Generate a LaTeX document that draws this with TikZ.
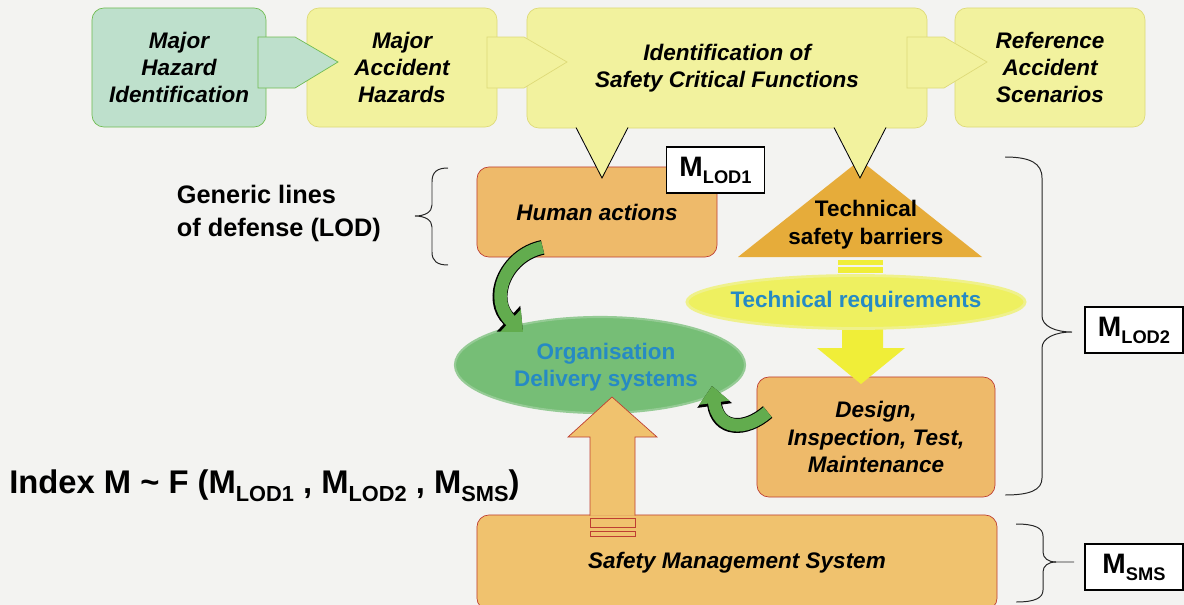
\documentclass[tikz,border=0pt]{standalone}
\usepackage{fontspec}
\setmainfont{Liberation Sans}
\usetikzlibrary{shapes.geometric,arrows.meta,calc}

\definecolor{bgcol}{RGB}{243,243,241}
\definecolor{tealfill}{RGB}{190,224,204}
\definecolor{tealline}{RGB}{112,188,82}
\definecolor{yelfill}{RGB}{242,242,158}
\definecolor{yelline}{RGB}{222,218,120}
\definecolor{orangefill}{RGB}{238,186,106}
\definecolor{smsfill}{RGB}{240,194,110}
\definecolor{barrierfill}{RGB}{230,172,58}
\definecolor{redline}{RGB}{190,62,50}
\definecolor{orgfill}{RGB}{118,190,118}
\definecolor{reqfill}{RGB}{238,240,96}
\definecolor{bluetext}{RGB}{38,138,196}
\definecolor{arrowgreen}{RGB}{98,172,78}
\definecolor{arrowyel}{RGB}{240,238,56}

\newcommand{\Msub}[2]{M\raisebox{-0.25em}{\fontsize{#2}{#2}\selectfont #1}}

\tikzset{
  topbox/.style={rounded corners=0.3cm, line width=0.5pt, align=center,
    minimum height=2.975cm, font=\bfseries\itshape\fontsize{16}{19.2}\selectfont},
  lodbox/.style={rounded corners=0.3cm, fill=orangefill, draw=redline, line width=0.5pt,
    align=center, font=\bfseries\itshape\fontsize{16}{19.5}\selectfont},
  mbox/.style={draw=black, fill=white, line width=0.8pt, inner sep=0pt,
    minimum width=2.45cm, minimum height=1.15cm, font=\bfseries\fontsize{20}{20}\selectfont},
  blobtext/.style={text=bluetext, align=center, font=\bfseries\fontsize{16}{19.5}\selectfont},
  greenarrow/.style={line width=9pt, draw=arrowgreen, -{Triangle[width=21pt,length=12pt]},
    preaction={draw=black, line width=10.6pt, -{Triangle[width=24pt,length=14pt]}}},
  bracket/.style={line width=0.7pt, draw=black!85}
}

\begin{document}
\begin{tikzpicture}[x=0.025cm, y=-0.025cm]
  \clip (0,0) rectangle (1184,605);
  \fill[bgcol] (0,0) rectangle (1184,605);

  % Top row
  \node[topbox, fill=tealfill, draw=tealline, minimum width=4.35cm] (mhi) at (179,67.5) {Major\\Hazard\\Identification};
  \node[topbox, fill=yelfill, draw=yelline, minimum width=4.75cm] (mah) at (402,67.5) {Major\\Accident\\Hazards};
  \node[topbox, fill=yelfill, draw=yelline, minimum width=10cm, minimum height=3cm] (iscf) at (727,68) {Identification of\\Safety Critical Functions};
  \node[topbox, fill=yelfill, draw=yelline, minimum width=4.75cm] (ras) at (1050,67.5) {Reference\\Accident\\Scenarios};

  % Arrows between the top boxes
  \foreach \xa/\fc/\dc in {258/tealfill/tealline, 487/yelfill/yelline, 907/yelfill/yelline}
    \filldraw[fill=\fc, draw=\dc, line width=0.5pt] (\xa,37) -- ++(37,0) -- ++(43,25) -- ++(-43,26) -- ++(-37,0) -- cycle;

  % Lines of defense
  \node[lodbox, minimum width=6cm, minimum height=2.25cm] (human) at (597,212) {Human actions};
  \node[mbox] (mlod1) at (715.5,170) {\Msub{LOD1}{13}};

  \fill[barrierfill] (738,257) -- (860,160) -- (982,257) -- cycle;
  \node[align=center, font=\bfseries\fontsize{16}{20}\selectfont] (tsb) at (866,225) {Technical\\safety barriers};

  \foreach \xc in {602,860} {
    \fill[yelfill] (\xc-26,126) -- (\xc,178) -- (\xc+26,126) -- cycle;
    \draw[line width=0.6pt] (\xc-26,127.5) -- (\xc,178) -- (\xc+26,127.5);
  }

  % Technical requirements
  \fill[arrowyel] (838,260) rectangle (883,264.5);
  \fill[arrowyel] (838,267) rectangle (883,273);
  \node[lodbox, minimum width=5.95cm, minimum height=3cm] (design) at (876,437) {Design,\\Inspection, Test,\\Maintenance};
  \fill[arrowyel] (842,318) -- (842,348) -- (817,348) -- (861,384) -- (905,348) -- (883,348) -- (883,318) -- cycle;
  \node[ellipse, fill=reqfill, draw=reqfill!70!bgcol, line width=2pt, minimum width=8.45cm, minimum height=1.325cm] (req) at (856,302) {};
  \node[blobtext] at (req) {Technical requirements};

  % Organisation
  \node[ellipse, fill=orgfill, draw=orgfill!75!bgcol, line width=1.5pt, minimum width=7.25cm, minimum height=2.4cm] (org) at (600,365) {};
  \node[blobtext] at ($(org)+(6,2)$) {Organisation\\Delivery systems};

  % Safety management system
  \node[lodbox, fill=smsfill, minimum width=13cm, minimum height=2.375cm] (sms) at (737,562.5) {Safety Management System};
  \filldraw[fill=smsfill, draw=redline, line width=0.5pt] (590,515.5) -- (590,437) -- (568,437) -- (612,397) -- (657,437) -- (635,437) -- (635,515.5);
  \filldraw[fill=smsfill, draw=redline, line width=0.5pt] (590,518) rectangle (635,527);
  \filldraw[fill=smsfill, draw=redline, line width=0.5pt] (590,531) rectangle (635,536);

  % Green arrows
  \draw[greenarrow] ($(human.south west)+(66,-10)$) .. controls +(-38,8) and +(-35,-32) .. ($(org.center)+(-77,-33)$);
  \draw[greenarrow] ($(design.west)+(11,-25)$) .. controls +(-23,20) and +(6,44) .. ($(org.center)+(112,21)$);

  % Braces and measures
  \node[anchor=west, align=left, font=\bfseries\fontsize{18}{23.5}\selectfont] (generic) at (172,213) {Generic lines\\of defense (LOD)};
  \draw[bracket] (448,168) .. controls (437,168) and (432,172) .. (432,182) -- (432,205)
    .. controls (432,212) and (425,216) .. (415,216) .. controls (425,216) and (432,220) .. (432,227)
    -- (432,252) .. controls (432,261) and (437,265) .. (448,265);

  \draw[bracket] (1005,157) .. controls (1030,157) and (1042,163) .. (1042,178) -- (1042,316)
    .. controls (1042,326) and (1055,332) .. (1072,332) .. controls (1055,332) and (1042,338) .. (1042,348)
    -- (1042,478) .. controls (1042,490) and (1030,495) .. (1005,495);
  \node[mbox] (mlod2) at (1134,330) {\Msub{LOD2}{13}};

  \draw[bracket] (1016,524) .. controls (1035,524) and (1043,528) .. (1043,536) -- (1043,552)
    .. controls (1043,558) and (1048,562) .. (1056,562) -- (1074,562);
  \draw[bracket] (1056,562) .. controls (1048,562) and (1043,566) .. (1043,572) -- (1043,590)
    .. controls (1043,598) and (1035,602) .. (1016,602);
  \node[mbox] (msms) at (1134,567) {\Msub{SMS}{13}};

  \node[anchor=base west, inner sep=0pt, font=\bfseries\fontsize{23.3}{24}\selectfont] (index) at (9,493)
    {Index M \textasciitilde{} F (\Msub{LOD1}{15.5} , \Msub{LOD2}{15.5} , \Msub{SMS}{15.5})};
\end{tikzpicture}
\end{document}
